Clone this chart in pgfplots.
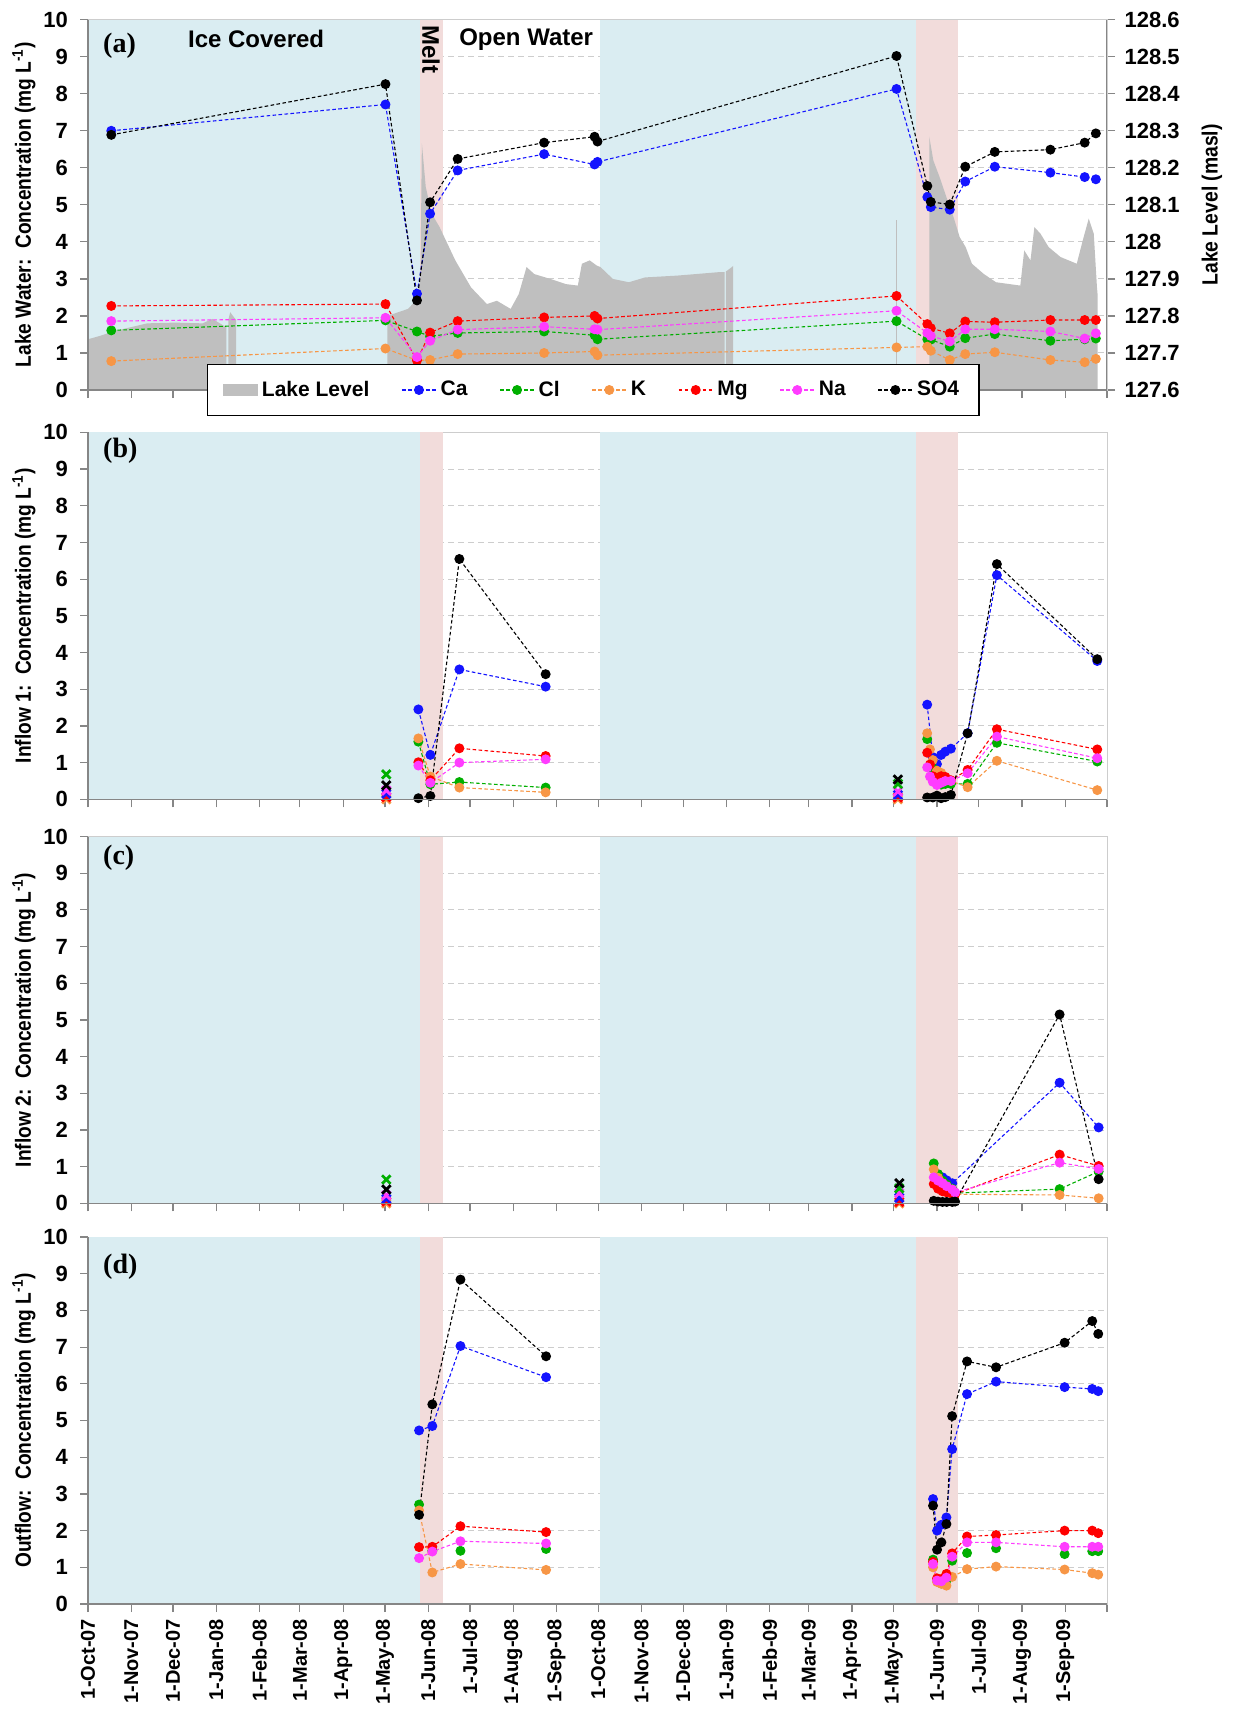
\documentclass[border=0pt]{standalone}
\usepackage{pgfplots}
\pgfplotsset{compat=1.18}
\usepackage{fontspec}
\setmainfont{Liberation Sans}
\newfontfamily\serifbold{Liberation Serif}
\definecolor{iceblue}{RGB}{218,237,242}
\definecolor{meltpink}{RGB}{242,220,219}
\definecolor{lakegray}{RGB}{191,191,191}
\definecolor{caC}{RGB}{20,20,255}
\definecolor{clC}{RGB}{0,175,0}
\definecolor{kC}{RGB}{247,150,70}
\definecolor{mgC}{RGB}{255,0,0}
\definecolor{naC}{RGB}{255,60,255}
\definecolor{soC}{RGB}{0,0,0}
\definecolor{axgray}{RGB}{134,134,134}
\definecolor{boxgray}{RGB}{205,205,205}
\definecolor{gridgray}{RGB}{205,205,205}
\newcommand{\tickfont}{\bfseries\fontsize{11}{13}\selectfont}
\newcommand{\labfont}{\bfseries\fontsize{11}{13}\selectfont}
\newcommand{\bandshade}[2]{%
  \fill[iceblue] (axis cs:0,#1) rectangle (axis cs:238,#2);
  \fill[meltpink] (axis cs:238,#1) rectangle (axis cs:255,#2);
  \fill[iceblue] (axis cs:367,#1) rectangle (axis cs:594,#2);
  \fill[meltpink] (axis cs:594,#1) rectangle (axis cs:624,#2);
}
\pgfplotsset{
  panel/.style={
    scale only axis, width=509.5pt,
    xmin=0, xmax=731, ymin=0, ymax=10,
    xtick={0,31,61,92,123,152,183,213,244,274,305,336,366,397,427,458,489,517,548,578,609,639,670,701,731},
    xticklabels={},
    ytick={0,1,2,3,4,5,6,7,8,9,10},
    tick align=outside, tick pos=left,
    major tick length=4pt,
    axis line style={boxgray},
    every tick/.style={axgray, line width=0.6pt},
    tick label style={font=\tickfont},
    /pgf/number format/assume math mode=true,
    yticklabel style={xshift=-2.5pt},
    ylabel style={font=\labfont, at={(axis description cs:-0.0628,0.5)}, anchor=center},
    unbounded coords=jump,
    after end axis/.code={\draw[axgray, line width=0.7pt] (rel axis cs:0,1) -- (rel axis cs:0,0) -- (rel axis cs:1,0);},
  },
  gridon/.style={ymajorgrids, major grid style={densely dashed, gridgray, line width=0.5pt}},
  ser/.style={#1, line width=0.55pt, dash pattern=on 1.8pt off 1.2pt, mark=*, mark size=2.2pt, mark options={solid, fill=#1, draw=#1}},
  xser/.style={#1, only marks, mark=x, mark size=3pt, mark options={solid, line width=1.4pt}},
}
\begin{document}
\begin{tikzpicture}
\path[use as bounding box] (0pt,0pt) rectangle (616.5pt,-856pt);

% ---------------- Panel (a): lake level (right axis) ----------------
\begin{axis}[panel, at={(44pt,-195pt)}, anchor=south west, height=185.15pt,
  ymin=127.6, ymax=128.6,
  ytick={127.6,127.7,127.8,127.9,128,128.1,128.2,128.3,128.4,128.5,128.6},
  yticklabels={127.6,127.7,127.8,127.9,128,128.1,128.2,128.3,128.4,128.5,128.6},
  axis y line*=right, axis x line=none, gridon,
  ytick pos=right, yticklabel pos=right,
  yticklabel style={xshift=3.8pt, anchor=west},
  ylabel={\scalebox{0.88}[1]{Lake Level (masl)}},
  ylabel style={font=\labfont, at={(axis description cs:1.103,0.5)}, anchor=center},
  after end axis/.code={\draw[axgray, line width=0.7pt] (rel axis cs:1,1) -- (rel axis cs:1,0);},
]
\bandshade{127.6}{128.6}
\addplot[fill=lakegray, draw=none] coordinates {
 (0,127.6)(0,127.737)(8.5,127.746)(19.8,127.76)(42.5,127.78)(62.3,127.782)(82.2,127.78)(89.3,127.792)(97.7,127.773)(99.2,127.773)(99.3,127.6)(100.6,127.6)(100.7,127.79)(102,127.81)(104.8,127.796)(106.2,127.79)(106.2,127.6)};
\addplot[fill=lakegray, draw=none] coordinates {
 (214.8,127.6)(214.8,127.8)(229.5,127.819)(235.2,127.841)(238.5,127.9)(239.5,128.266)(242.3,128.148)(246.6,128.076)(252.2,128.04)(263.5,127.95)(274.8,127.877)(286.2,127.832)(293.3,127.841)(303.2,127.819)(309,127.859)(314.6,127.932)(320.2,127.913)(331.6,127.9)(342.9,127.886)(351.4,127.882)(354.3,127.941)(359.9,127.95)(365,127.936)(367.6,127.932)(376.5,127.9)(388,127.891)(399.6,127.904)(422.9,127.909)(451.7,127.918)(456.6,127.918)(456.7,127.6)(457.5,127.6)(457.6,127.92)(461.9,127.932)(462.8,127.935)(462.8,127.6)};
\addplot[lakegray, line width=0.6pt] coordinates {(580,127.6)(580,128.058)};
\addplot[fill=lakegray, draw=none] coordinates {
 (603.5,127.6)(603.5,128.284)(606.4,128.22)(610.9,128.175)(616.6,128.112)(620.9,128.067)(625.3,128.013)(629.6,127.986)(634.1,127.941)(642.7,127.913)(651.4,127.891)(668.8,127.882)(671.6,127.977)(676.1,127.95)(678.9,128.04)(683.3,128.022)(689.1,127.986)(697.7,127.959)(709.3,127.941)(713.6,128.004)(717.9,128.063)(721.5,128.022)(723.8,127.877)(724.2,127.86)(724.2,127.6)};
\end{axis}

% ---------------- Panel (a): chemistry ----------------
\begin{axis}[panel, at={(44pt,-195pt)}, anchor=south west, height=185.15pt,
  ylabel={\scalebox{0.87}[1]{Lake Water:\ \ Concentration (mg L\textsuperscript{-1})}},
  legend style={at={(0.496,0.0)}, anchor=center, legend columns=7, draw=black, line width=0.6pt, fill=white,
    font=\bfseries\fontsize{10.5}{12}\selectfont, inner xsep=8pt, inner ysep=6pt,
    /tikz/every even column/.append style={column sep=14pt}},
  legend cell align=left,
]
\node[anchor=west, font=\serifbold\bfseries\fontsize{14}{16}\selectfont] at (rel axis cs:0.008,0.929) {(a)};
\node[font=\bfseries\fontsize{12}{14}\selectfont] at (rel axis cs:0.165,0.947) {Ice Covered};
\node[font=\bfseries\fontsize{12}{14}\selectfont] at (rel axis cs:0.43,0.947) {Open Water};
\node[rotate=-90, font=\bfseries\fontsize{12}{14}\selectfont] at (axis cs:246,9.2) {Melt};
\addlegendimage{area legend, fill=lakegray, draw=lakegray, line width=0pt}
\addlegendentry{Lake Level}
\addplot[ser=caC] coordinates {(16.7,7.00)(213.4,7.71)(236,2.60)(245.4,4.76)(265.2,5.93)(327.2,6.37)(363.4,6.09)(365.5,6.16)(580,8.13)(602.1,5.21)(604.6,4.94)(618.2,4.87)(629.3,5.63)(650.5,6.03)(690.4,5.87)(715,5.75)(723,5.69)};
\addlegendentry{Ca}
\addplot[ser=clC] coordinates {(16.7,1.61)(213.4,1.88)(236,1.58)(245.4,1.45)(265.2,1.54)(327.2,1.58)(363.4,1.48)(365.5,1.37)(580,1.86)(602.1,1.37)(604.6,1.36)(618.2,1.17)(629.3,1.40)(650.5,1.51)(690.4,1.33)(715,1.37)(723,1.39)};
\addlegendentry{Cl}
\addplot[ser=kC] coordinates {(16.7,0.78)(213.4,1.12)(236,0.80)(245.4,0.81)(265.2,0.97)(327.2,1.00)(363.4,1.04)(365.5,0.94)(580,1.15)(602.1,1.17)(604.6,1.06)(618.2,0.81)(629.3,0.97)(650.5,1.02)(690.4,0.81)(715,0.75)(723,0.84)};
\addlegendentry{K}
\addplot[ser=mgC] coordinates {(16.7,2.27)(213.4,2.32)(236,0.80)(245.4,1.55)(265.2,1.86)(327.2,1.96)(363.4,2.00)(365.5,1.93)(580,2.54)(602.1,1.78)(604.6,1.67)(618.2,1.53)(629.3,1.85)(650.5,1.83)(690.4,1.89)(715,1.89)(723,1.89)};
\addlegendentry{Mg}
\addplot[ser=naC] coordinates {(16.7,1.86)(213.4,1.95)(236,0.89)(245.4,1.33)(265.2,1.63)(327.2,1.71)(363.4,1.64)(365.5,1.63)(580,2.14)(602.1,1.54)(604.6,1.46)(618.2,1.31)(629.3,1.64)(650.5,1.64)(690.4,1.58)(715,1.39)(723,1.53)};
\addlegendentry{Na}
\addplot[ser=soC] coordinates {(16.7,6.89)(213.4,8.26)(236,2.42)(245.4,5.07)(265.2,6.24)(327.2,6.68)(363.4,6.84)(365.5,6.71)(580,9.02)(602.1,5.51)(604.6,5.08)(618.2,5.01)(629.3,6.03)(650.5,6.43)(690.4,6.49)(715,6.68)(723,6.93)};
\addlegendentry{SO4}
\end{axis}

% ---------------- Panel (b): Inflow 1 ----------------
\begin{axis}[panel, gridon, at={(44pt,-399.65pt)}, anchor=south west, height=183.45pt,
  ylabel={\scalebox{0.87}[1]{Inflow 1:\ \ Concentration (mg L\textsuperscript{-1})}}]
\bandshade{0}{10}
\node[anchor=west, font=\serifbold\bfseries\fontsize{14}{16}\selectfont] at (rel axis cs:0.008,0.949) {(b)};
\addplot[ser=caC] coordinates {(237,2.45)(245.6,1.21)(266.4,3.54)(328.3,3.07)(400,nan)(602,2.58)(606,1.15)(609,0.96)(612,1.21)(615,1.30)(619,1.38)(631,1.80)(652,6.11)(724,3.77)};
\addplot[ser=clC] coordinates {(237,1.57)(245.6,0.41)(266.4,0.47)(328.3,0.32)(400,nan)(602,1.64)(606,0.85)(609,0.53)(612,0.40)(615,0.42)(619,0.42)(631,0.42)(652,1.54)(724,1.03)};
\addplot[ser=kC] coordinates {(237,1.66)(245.6,0.62)(266.4,0.32)(328.3,0.19)(400,nan)(602,1.80)(604,1.36)(606,1.07)(609,0.78)(612,0.72)(615,0.60)(619,0.50)(631,0.33)(652,1.05)(724,0.25)};
\addplot[ser=mgC] coordinates {(237,1.01)(245.6,0.52)(266.4,1.39)(328.3,1.18)(400,nan)(602,1.27)(604,0.95)(606,0.63)(609,0.58)(612,0.63)(615,0.61)(619,0.52)(631,0.80)(652,1.91)(724,1.36)};
\addplot[ser=naC] coordinates {(237,0.92)(245.6,0.45)(266.4,1.00)(328.3,1.09)(400,nan)(602,0.87)(604,0.62)(606,0.48)(609,0.39)(612,0.45)(615,0.50)(619,0.50)(631,0.71)(652,1.71)(724,1.12)};
\addplot[ser=soC] coordinates {(237,0.03)(245.6,0.09)(266.4,6.55)(328.3,3.41)(400,nan)(602,0.05)(606,0.05)(609,0.10)(612,0.03)(615,0.06)(619,0.12)(631,1.80)(652,6.41)(724,3.82)};
\addplot[xser=kC] coordinates {(214,0.00)(581,0.00)};
\addplot[xser=mgC] coordinates {(214,0.06)(581,0.05)};
\addplot[xser=caC] coordinates {(214,0.15)(581,0.12)};
\addplot[xser=naC] coordinates {(214,0.24)(581,0.21)};
\addplot[xser=clC] coordinates {(214,0.68)(581,0.42)};
\addplot[xser=soC] coordinates {(214,0.38)(581,0.54)};
\end{axis}

% ---------------- Panel (c): Inflow 2 ----------------
\begin{axis}[panel, gridon, at={(44pt,-601.7pt)}, anchor=south west, height=183.45pt,
  ylabel={\scalebox{0.87}[1]{Inflow 2:\ \ Concentration (mg L\textsuperscript{-1})}}]
\bandshade{0}{10}
\node[anchor=west, font=\serifbold\bfseries\fontsize{14}{16}\selectfont] at (rel axis cs:0.008,0.941) {(c)};
\addplot[ser=caC] coordinates {(610,0.75)(613,0.71)(616,0.63)(620,0.55)(697,3.29)(725,2.07)};
\addplot[ser=clC] coordinates {(606.7,1.09)(609.8,0.80)(613,0.62)(616,0.52)(620,0.40)(622,0.28)(697,0.39)(725,0.87)};
\addplot[ser=kC] coordinates {(606.7,0.93)(609.8,0.70)(613,0.55)(616,0.43)(620,0.33)(622,0.25)(697,0.23)(725,0.14)};
\addplot[ser=mgC] coordinates {(606.7,0.53)(609.8,0.40)(613,0.33)(616,0.30)(620,0.26)(622,0.25)(697,1.33)(725,1.02)};
\addplot[ser=naC] coordinates {(606.7,0.71)(609.8,0.62)(613,0.55)(616,0.47)(620,0.38)(622,0.30)(697,1.11)(725,0.94)};
\addplot[ser=soC] coordinates {(606.7,0.07)(609.8,0.05)(613,0.04)(616,0.04)(620,0.04)(622,0.05)(697,5.15)(725,0.66)};
\addplot[xser=kC] coordinates {(214,0.00)(582,0.00)};
\addplot[xser=mgC] coordinates {(214,0.05)(582,0.04)};
\addplot[xser=caC] coordinates {(214,0.12)(582,0.15)};
\addplot[xser=naC] coordinates {(214,0.22)(582,0.28)};
\addplot[xser=clC] coordinates {(214,0.65)(582,0.41)};
\addplot[xser=soC] coordinates {(214,0.38)(582,0.55)};
\end{axis}

% ---------------- Panel (d): Outflow ----------------
\begin{axis}[panel, gridon, at={(44pt,-802pt)}, anchor=south west, height=183.5pt,
  ylabel={\scalebox{0.87}[1]{Outflow:\ \ Concentration (mg L\textsuperscript{-1})}},
  xticklabels={1-Oct-07,1-Nov-07,1-Dec-07,1-Jan-08,1-Feb-08,1-Mar-08,1-Apr-08,1-May-08,1-Jun-08,1-Jul-08,1-Aug-08,1-Sep-08,1-Oct-08,1-Nov-08,1-Dec-08,1-Jan-09,1-Feb-09,1-Mar-09,1-Apr-09,1-May-09,1-Jun-09,1-Jul-09,1-Aug-09,1-Sep-09,{}},
  xticklabel style={rotate=90, anchor=east, font=\bfseries\fontsize{10}{12}\selectfont},
]
\bandshade{0}{10}
\node[anchor=west, font=\serifbold\bfseries\fontsize{14}{16}\selectfont] at (rel axis cs:0.008,0.919) {(d)};
\addplot[ser=caC] coordinates {(237.5,4.73)(247,4.85)(267.2,7.03)(328.6,6.18)(400,nan)(606.2,2.86)(609.1,2.00)(612.2,2.16)(615.8,2.36)(619.9,4.22)(630.6,5.72)(651.4,6.06)(700.6,5.91)(720.4,5.86)(724.7,5.80)};
\addplot[ser=clC, only marks] coordinates {(237.5,2.71)(247,1.45)(267.2,1.45)(328.6,1.50)(606.2,1.21)(609.1,0.64)(612.2,0.56)(615.8,0.64)(619.9,1.18)(630.6,1.39)(651.4,1.52)(700.6,1.36)(720.4,1.44)(724.7,1.44)};
\addplot[ser=kC] coordinates {(237.5,2.55)(247,0.86)(267.2,1.09)(328.6,0.93)(400,nan)(606.2,1.00)(609.1,0.60)(612.2,0.55)(615.8,0.50)(619.9,0.74)(630.6,0.95)(651.4,1.02)(700.6,0.94)(720.4,0.84)(724.7,0.80)};
\addplot[ser=mgC] coordinates {(237.5,1.55)(247,1.56)(267.2,2.12)(328.6,1.96)(400,nan)(606.2,1.15)(609.1,0.70)(612.2,0.68)(615.8,0.82)(619.9,1.38)(630.6,1.84)(651.4,1.88)(700.6,2.00)(720.4,2.00)(724.7,1.93)};
\addplot[ser=naC] coordinates {(237.5,1.25)(247,1.43)(267.2,1.71)(328.6,1.65)(400,nan)(606.2,1.09)(609.1,0.64)(612.2,0.62)(615.8,0.72)(619.9,1.29)(630.6,1.68)(651.4,1.68)(700.6,1.56)(720.4,1.56)(724.7,1.56)};
\addplot[ser=soC] coordinates {(237.5,2.43)(247,5.44)(267.2,8.84)(328.6,6.75)(400,nan)(606.2,2.68)(609.1,1.48)(612.2,1.68)(615.8,2.18)(619.9,5.12)(630.6,6.61)(651.4,6.45)(700.6,7.12)(720.4,7.71)(724.7,7.36)};
\end{axis}
\end{tikzpicture}
\end{document}
